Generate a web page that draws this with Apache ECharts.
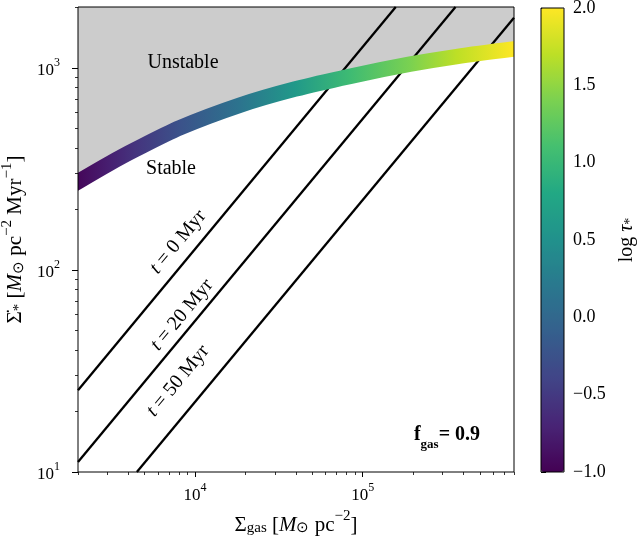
<!DOCTYPE html>
<html><head><meta charset="utf-8">
<script src="https://cdn.jsdelivr.net/npm/echarts@6/dist/echarts.min.js"></script>
<style>html,body{margin:0;padding:0;background:#fff}#c{width:639px;height:537px}</style>
</head><body><div id="c"></div>
<script>
// ---- data ----
const sigmaGas = [2000, 3028, 4387, 8141, 18550, 39450, 83960, 191400, 363000, 800000];
const sigmaSFR = [273, 333.5, 393.5, 505.8, 654, 785, 908, 1042, 1137, 1239];
const logTau   = [-0.95, -0.75, -0.55, -0.25, 0.15, 0.6, 1.05, 1.4, 1.7, 2.0];
const lineT0  = [[2000, 25.4], [157500, 2000]];
const lineT20 = [[2000, 11.2], [358000, 2000]];
const lineT50 = [[4490, 10], [800000, 1770]];
const xMajor = [1e4, 1e5];
const xMinor = [2000,3000,4000,5000,6000,7000,8000,9000,20000,30000,40000,50000,60000,70000,80000,90000,200000,300000,400000,500000,600000,700000,800000];
const yMajor = [10, 100, 1000];
const yMinor = [20,30,40,50,60,70,80,90,200,300,400,500,600,700,800,900,2000];
const cbTicks = [-1.0, -0.5, 0.0, 0.5, 1.0, 1.5, 2.0];
const viridis = ['#440154','#482475','#414487','#355f8d','#2a788e','#21918c','#22a884','#44bf70','#7ad151','#bddf26','#fde725'];
const cMin = -1, cMax = 2;

const FONT = 'Liberation Serif';
function hex(c){return [parseInt(c.slice(1,3),16),parseInt(c.slice(3,5),16),parseInt(c.slice(5,7),16)];}
function cmap(v){
  let t = (v - cMin)/(cMax - cMin); t = Math.max(0, Math.min(1, t));
  const p = t*(viridis.length-1); const i = Math.min(Math.floor(p), viridis.length-2); const f = p - i;
  const a = hex(viridis[i]), b = hex(viridis[i+1]);
  return 'rgb(' + a.map((x,k)=>Math.round(x+(b[k]-x)*f)).join(',') + ')';
}
const bandData = sigmaGas.map((x,i)=>[x, sigmaSFR[i], logTau[i]]);
const supRich = {
  b: {fontFamily: FONT, fontSize: 17, color: '#000', lineHeight: 22, verticalAlign: 'bottom'},
  s: {fontFamily: FONT, fontSize: 12, color: '#000', lineHeight: 12, verticalAlign: 'top'}
};
function logFmt(v){ const e = Math.round(Math.log10(v)); return '{b|10}{s|' + e + '}'; }

const chart = echarts.init(document.getElementById('c'), null, {renderer: 'canvas'});
const G = {left: 78, top: 7, width: 436, height: 465};
const CB = {left: 541, top: 8, width: 23, height: 464};

const nameRich = {
  n: {fontFamily: FONT, fontSize: 21, color: '#000', lineHeight: 27, verticalAlign: 'bottom'},
  i: {fontFamily: FONT, fontSize: 21, fontStyle: 'italic', color: '#000', lineHeight: 27, verticalAlign: 'bottom'},
  sub: {fontFamily: FONT, fontSize: 15, color: '#000', lineHeight: 19, verticalAlign: 'bottom'},
  sup: {fontFamily: FONT, fontSize: 15, color: '#000', lineHeight: 15, verticalAlign: 'top'}
};
const cbRich = {
  n: {fontFamily: FONT, fontSize: 20, color: '#000', lineHeight: 26, verticalAlign: 'bottom'},
  i: {fontFamily: FONT, fontSize: 20, fontStyle: 'italic', color: '#000', lineHeight: 26, verticalAlign: 'bottom'},
  sub: {fontFamily: FONT, fontSize: 14, color: '#000', lineHeight: 18, verticalAlign: 'bottom'}
};

const option = {
  animation: false,
  backgroundColor: '#fff',
  grid: [
    Object.assign({show: true, borderColor: '#000', borderWidth: 1, z: 10, backgroundColor: 'transparent', containLabel: false, outerBoundsMode: 'none'}, G),
    Object.assign({show: true, borderColor: '#000', borderWidth: 1, z: 10, backgroundColor: 'transparent', containLabel: false, outerBoundsMode: 'none'}, CB)
  ],
  xAxis: [
    {type: 'log', logBase: 10, min: 2000, max: 800000, gridIndex: 0, position: 'bottom',
     axisLine: {show: false}, splitLine: {show: false},
     axisTick: {show: true, length: 5, lineStyle: {color: '#000', width: 1}, customValues: xMajor},
     axisLabel: {show: true, margin: 10, customValues: xMajor, formatter: logFmt, rich: supRich},
     name: '{n|Σ}{sub|gas}{n| [}{i|M}{sub|⊙}{n| pc}{sup|−2}{n|]}', nameLocation: 'middle', nameGap: 35,
     nameTextStyle: {rich: nameRich}},
    {type: 'log', logBase: 10, min: 2000, max: 800000, gridIndex: 0, position: 'bottom',
     axisLine: {show: false}, splitLine: {show: false},
     axisTick: {show: true, length: 3, lineStyle: {color: '#000', width: 0.8}, customValues: xMinor},
     axisLabel: {show: false}},
    {type: 'value', gridIndex: 1, show: false, min: 0, max: 1}
  ],
  yAxis: [
    {type: 'log', logBase: 10, min: 10, max: 2000, gridIndex: 0, position: 'left',
     axisLine: {show: false}, splitLine: {show: false},
     axisTick: {show: true, length: 6, lineStyle: {color: '#000', width: 1}, customValues: yMajor},
     axisLabel: {show: true, margin: 18, customValues: yMajor, formatter: logFmt, rich: supRich},
     name: '{n|Σ̇}{sub|*}{n| [}{i|M}{sub|⊙}{n| pc}{sup|−2}{n| Myr}{sup|−1}{n|]}', nameLocation: 'middle', nameGap: 46,
     nameTextStyle: {rich: nameRich}},
    {type: 'log', logBase: 10, min: 10, max: 2000, gridIndex: 0, position: 'left',
     axisLine: {show: false}, splitLine: {show: false},
     axisTick: {show: true, length: 3, lineStyle: {color: '#000', width: 0.8}, customValues: yMinor},
     axisLabel: {show: false}},
    {type: 'value', gridIndex: 1, position: 'right', min: cMin, max: cMax,
     axisLine: {show: false}, splitLine: {show: false},
     axisTick: {show: true, length: 5, lineStyle: {color: '#000', width: 1}, customValues: cbTicks},
     axisLabel: {show: true, margin: 9, customValues: cbTicks, fontFamily: FONT, fontSize: 18, color: '#000',
       formatter: v => (v < 0 ? '−' : '') + Math.abs(v).toFixed(1)},
     name: '{n|log }{i|τ}{sub|*}', nameLocation: 'middle', nameGap: 47, nameRotate: 90,
     nameTextStyle: {rich: cbRich}}
  ],
  visualMap: [{
    type: 'continuous', min: cMin, max: cMax, dimension: 2, seriesIndex: 4,
    inRange: {color: viridis}, calculable: false, realtime: false, hoverLink: false,
    orient: 'vertical', left: CB.left, top: CB.top, itemWidth: CB.width, itemHeight: CB.height,
    padding: 0, text: null, showLabel: false, textGap: 0, z: 5
  }],
  series: [
    {type: 'line', name: 'unstable', xAxisIndex: 0, yAxisIndex: 0, data: sigmaGas.map((x,i)=>[x, sigmaSFR[i]]),
     symbol: 'none', smooth: 0.3, lineStyle: {width: 0}, areaStyle: {color: '#cccccc', opacity: 1, origin: 'end'}, z: 1, silent: true},
    {type: 'line', xAxisIndex: 0, yAxisIndex: 0, data: lineT0, symbol: 'none', clip: true,
     lineStyle: {color: '#000', width: 2.3}, z: 2, silent: true},
    {type: 'line', xAxisIndex: 0, yAxisIndex: 0, data: lineT20, symbol: 'none', clip: true,
     lineStyle: {color: '#000', width: 2.3}, z: 2, silent: true},
    {type: 'line', xAxisIndex: 0, yAxisIndex: 0, data: lineT50, symbol: 'none', clip: true,
     lineStyle: {color: '#000', width: 2.3}, z: 2, silent: true},
    {type: 'custom', xAxisIndex: 0, yAxisIndex: 0, data: bandData, clip: true, z: 3, silent: true,
     renderItem: function(params, api){
       if (params.dataIndex !== 0) return null;
       const cs = params.coordSys;
       const pts = bandData.map(d => api.coord([d[0], d[1]]));
       const x0 = pts[0][0], x1 = pts[pts.length-1][0];
       const stops = bandData.map((d,i)=>({offset: (pts[i][0]-x0)/(x1-x0), color: cmap(d[2])}));
       return {type: 'group',
         clipPath: {type: 'rect', shape: {x: cs.x, y: cs.y, width: cs.width, height: cs.height}},
         children: [{type: 'polyline', shape: {points: pts, smooth: 0.3},
           style: {fill: null, lineWidth: 15.5, lineCap: 'square', lineJoin: 'round',
             stroke: {type: 'linear', x: x0, y: 0, x2: x1, y2: 0, global: true, colorStops: stops}}}]};
     }}
  ],
  graphic: [
    {type: 'text', x: 183, y: 63, z: 20, style: {text: 'Unstable', font: '20px "Liberation Serif"', fill: '#000', textAlign: 'center', textVerticalAlign: 'middle'}},
    {type: 'text', x: 171, y: 169, z: 20, style: {text: 'Stable', font: '20px "Liberation Serif"', fill: '#000', textAlign: 'center', textVerticalAlign: 'middle'}},
    {type: 'text', x: 178, y: 242, rotation: 0.878, z: 20, style: {text: '{i|t} = 0 Myr', font: '20px "Liberation Serif"', fill: '#000', textAlign: 'center', textVerticalAlign: 'middle', rich: {i: {fontStyle: 'italic', fontSize: 20, fontFamily: FONT}}}},
    {type: 'text', x: 182, y: 315, rotation: 0.878, z: 20, style: {text: '{i|t} = 20 Myr', font: '20px "Liberation Serif"', fill: '#000', textAlign: 'center', textVerticalAlign: 'middle', rich: {i: {fontStyle: 'italic', fontSize: 20, fontFamily: FONT}}}},
    {type: 'text', x: 178, y: 381, rotation: 0.878, z: 20, style: {text: '{i|t} = 50 Myr', font: '20px "Liberation Serif"', fill: '#000', textAlign: 'center', textVerticalAlign: 'middle', rich: {i: {fontStyle: 'italic', fontSize: 20, fontFamily: FONT}}}},
    {type: 'text', x: 447, y: 438, z: 20, style: {text: '{f|f}{g|gas}{f|= 0.9}', textAlign: 'center', textVerticalAlign: 'middle',
      rich: {f: {fontFamily: FONT, fontWeight: 'bold', fontSize: 20, lineHeight: 26, verticalAlign: 'top', fill: '#000'},
             g: {fontFamily: FONT, fontWeight: 'bold', fontSize: 13, lineHeight: 26, verticalAlign: 'bottom', fill: '#000'}}}}
  ]
};
chart.setOption(option);
</script>
</body></html>
